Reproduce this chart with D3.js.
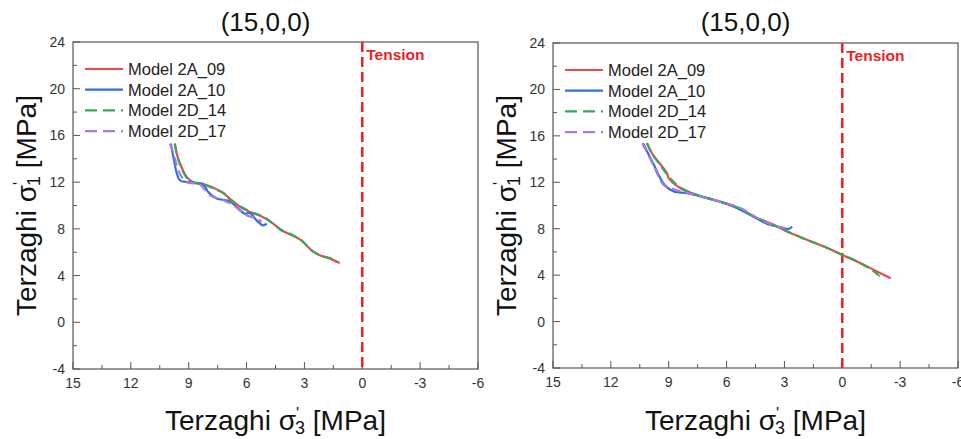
<!DOCTYPE html>
<html>
<head>
<meta charset="utf-8">
<script src="https://cdn.jsdelivr.net/npm/d3@7"></script>
<style>
  body { margin: 0; background: #fff; }
  svg { display: block; font-family: "Liberation Sans", Arial, sans-serif; }
</style>
</head>
<body>
<div id="chart"></div>
<script>
// series names and ticks
var seriesNames = ["Model 2A_09", "Model 2A_10", "Model 2D_14", "Model 2D_17"];
var seriesColors = ["#f0474b", "#2f6fe0", "#35a85a", "#a67ce3"];
var seriesDash = [null, null, "9,5", "9,5"];
var xTicks = [15, 12, 9, 6, 3, 0, -3, -6];
var yTicks = [-4, 0, 4, 8, 12, 16, 20, 24];
var panelTitles = ["(15,0,0)", "(15,0,0)"];

// left panel: [sigma3', sigma1']
var left2A09 = [[9.72, 15.3], [9.6, 14.3], [9.45, 13.6], [9.11, 12.45], [8.77, 12.0], [8.16, 11.8],
  [7.38, 11.25], [6.87, 10.6], [6.35, 9.9], [5.83, 9.45], [5.14, 9.0], [4.62, 8.45], [4.19, 7.88],
  [3.59, 7.4], [3.15, 7.0], [2.63, 6.16], [2.2, 5.74], [1.68, 5.45], [1.17, 5.08]];
var left2A10 = [[9.92, 15.3], [9.8, 14.2], [9.46, 12.16], [9.03, 12.0], [8.25, 11.8], [7.99, 11.16],
  [7.55, 10.6], [6.87, 10.36], [6.52, 9.87], [6.09, 9.3], [5.83, 9.36], [5.48, 8.73], [5.14, 8.3], [4.96, 8.45]];
var left2D14 = [[9.72, 15.3], [9.6, 14.3], [9.45, 13.5], [9.11, 12.4], [8.77, 12.0], [8.16, 11.75],
  [7.5, 11.3], [7.12, 11.0], [6.87, 10.5], [6.35, 9.95], [5.83, 9.5], [5.14, 9.05], [4.62, 8.45], [4.19, 7.88],
  [3.59, 7.45], [3.15, 7.02], [2.63, 6.16], [2.2, 5.74], [1.68, 5.5], [1.3, 5.15]];
var left2D17 = [[9.97, 15.3], [9.8, 14.5], [9.46, 12.73], [9.11, 12.0], [8.42, 11.8], [7.9, 10.87],
  [7.21, 10.45], [6.69, 10.02], [6.35, 9.59], [6.0, 9.16], [5.48, 8.88], [5.22, 8.59]];

// right panel
var right2A09 = [[10.13, 15.37], [9.87, 14.5], [9.09, 12.78], [9.0, 12.35], [8.39, 11.49], [7.53, 10.91],
  [6.66, 10.48], [5.97, 10.14], [5.27, 9.68], [4.58, 9.04], [3.54, 8.33], [2.85, 7.75], [1.81, 7.03],
  [0.95, 6.46], [0, 5.74], [-0.95, 5.03], [-1.82, 4.3], [-2.51, 3.73]];
var right2A10 = [[10.33, 15.37], [9.8, 13.6], [9.22, 11.78], [8.74, 11.2], [8.05, 11.06], [7.01, 10.63],
  [5.97, 10.14], [4.93, 9.34], [3.89, 8.41], [3.2, 8.13], [2.77, 7.98], [2.6, 8.18]];
var right2D14 = [[10.13, 15.37], [9.87, 14.5], [9.09, 12.7], [8.6, 11.8], [8.0, 11.2], [7.53, 10.91],
  [6.66, 10.48], [5.97, 10.14], [5.27, 9.7], [4.58, 9.04], [3.54, 8.33], [2.85, 7.75], [1.81, 7.03],
  [0.95, 6.46], [0, 5.74], [-0.95, 5.03], [-1.9, 3.93], [-1.6, 4.0]];
var right2D17 = [[10.36, 15.37], [9.8, 13.5], [9.26, 11.78], [8.74, 11.4], [7.87, 11.0], [6.66, 10.48],
  [5.27, 9.77], [4.23, 8.76], [3.2, 8.13], [2.77, 8.04]];

var panelData = [
  [left2A09, left2A10, left2D14, left2D17],
  [right2A09, right2A10, right2D14, right2D17]
];

var width = 961, height = 439;
var svg = d3.select("#chart").append("svg")
  .attr("width", width)
  .attr("height", height);

var panels = [
  { left: 73, right: 478, top: 42, bottom: 369 },
  { left: 553, right: 958, top: 43, bottom: 368 }
];

// axis title with stacked prime and subscript
function axisTitle(sel, sub) {
  sel.append("tspan").text("Terzaghi σ");
  sel.append("tspan").attr("font-size", 16).attr("dy", -11).text("'");
  sel.append("tspan").attr("font-size", 18).attr("dx", -4).attr("dy", 15).text(sub);
  sel.append("tspan").attr("dy", -4).text(" [MPa]");
}

function drawPanel(p, idx) {
  var x = d3.scaleLinear().domain([15, -6]).range([p.left, p.right]),
    y = d3.scaleLinear().domain([-4, 24]).range([p.bottom, p.top]),
    g = svg.append("g"),
    cx = (p.left + p.right) / 2,
    minorX = d3.range(-6, 15.1, 1.5),
    minorY = d3.range(-4, 24.1, 2);

  // ticks (inward), minor ones shorter
  g.selectAll(".mx").data(minorX).enter().append("line")
    .attr("x1", function(d) { return x(d); })
    .attr("x2", function(d) { return x(d); })
    .attr("y1", p.bottom)
    .attr("y2", function(d) { return p.bottom - (xTicks.indexOf(d) > -1 ? 7 : 4); })
    .attr("stroke", "#555").attr("stroke-width", 1);
  g.selectAll(".my").data(minorY).enter().append("line")
    .attr("y1", function(d) { return y(d); })
    .attr("y2", function(d) { return y(d); })
    .attr("x1", p.left)
    .attr("x2", function(d) { return p.left + (yTicks.indexOf(d) > -1 ? 7 : 4); })
    .attr("stroke", "#555").attr("stroke-width", 1);

  // frame
  g.append("rect")
    .attr("x", p.left).attr("y", p.top)
    .attr("width", p.right - p.left).attr("height", p.bottom - p.top)
    .attr("fill", "none").attr("stroke", "#555").attr("stroke-width", 1.2);

  // tick labels
  g.selectAll(".xl").data(xTicks).enter().append("text")
    .attr("x", function(d) { return x(d); })
    .attr("y", p.bottom + 19)
    .attr("text-anchor", "middle")
    .attr("font-size", 14).attr("fill", "#333")
    .text(function(d) { return d; });
  g.selectAll(".yl").data(yTicks).enter().append("text")
    .attr("x", p.left - 8)
    .attr("y", function(d) { return y(d) + 5; })
    .attr("text-anchor", "end")
    .attr("font-size", 14).attr("fill", "#333")
    .text(function(d) { return d; });

  // tension line
  g.append("line")
    .attr("x1", x(0)).attr("x2", x(0))
    .attr("y1", p.top).attr("y2", p.bottom)
    .attr("stroke", "#f01e23").attr("stroke-width", 2.5)
    .attr("stroke-dasharray", "10,5");
  g.append("text")
    .attr("x", x(0) + 4).attr("y", p.top + 18)
    .attr("font-size", 15.5).attr("font-weight", "bold")
    .attr("fill", "#f01e23")
    .text("Tension");

  // curves
  var line = d3.line()
    .x(function(d) { return x(d[0]); })
    .y(function(d) { return y(d[1]); })
    .curve(d3.curveCatmullRom);
  panelData[idx].forEach(function(s, i) {
    g.append("path")
      .datum(s)
      .attr("d", line)
      .attr("fill", "none")
      .attr("stroke", seriesColors[i])
      .attr("stroke-width", 2.2)
      .attr("stroke-dasharray", seriesDash[i]);
  });

  // legend
  var lg = g.append("g").attr("transform", "translate(" + (p.left + 12) + "," + (p.top + 27) + ")");
  seriesNames.forEach(function(n, i) {
    lg.append("line")
      .attr("x1", 0).attr("x2", 38)
      .attr("y1", i * 20.7).attr("y2", i * 20.7)
      .attr("stroke", seriesColors[i]).attr("stroke-width", 2.2)
      .attr("stroke-dasharray", seriesDash[i] ? "12,6" : null);
    lg.append("text")
      .attr("x", 43).attr("y", i * 20.7 + 6)
      .attr("font-size", 16.5).attr("fill", "#222")
      .text(n);
  });

  // title
  svg.append("text")
    .attr("x", cx - 10).attr("y", 31)
    .attr("text-anchor", "middle")
    .attr("font-size", 26).attr("fill", "#111")
    .text(panelTitles[idx]);

  // x axis label
  svg.append("text")
    .attr("x", cx).attr("y", 430)
    .attr("text-anchor", "middle")
    .attr("font-size", 28).attr("fill", "#111")
    .call(axisTitle, "3");

  // y axis label
  svg.append("text")
    .attr("transform", "translate(" + (p.left - 37) + "," + ((p.top + p.bottom) / 2) + ") rotate(-90)")
    .attr("text-anchor", "middle")
    .attr("font-size", 28).attr("fill", "#111")
    .call(axisTitle, "1");
}

panels.forEach(drawPanel);
</script>
</body>
</html>
